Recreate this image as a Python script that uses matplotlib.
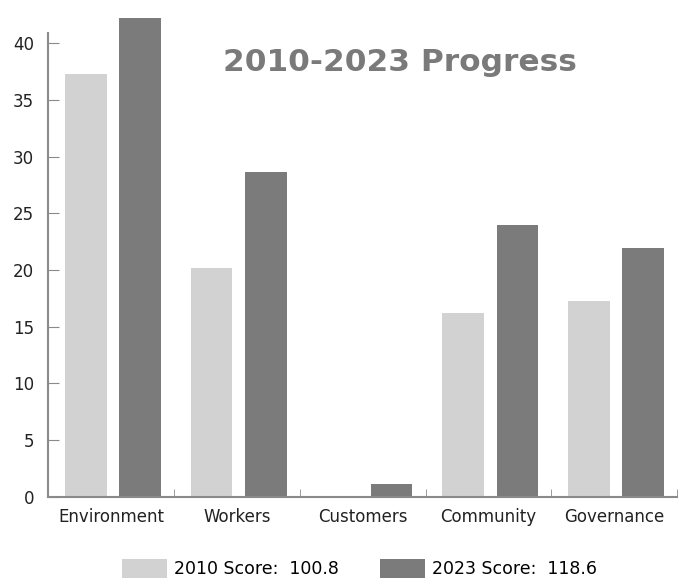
import numpy as np
import matplotlib.pyplot as plt

categories = ['Environment', 'Workers', 'Customers', 'Community', 'Governance']
scores_2010 = [37.3, 20.2, 0.0, 16.2, 17.3]
scores_2023 = [42.2, 28.6, 1.1, 24.0, 21.9]
labels = ['2010 Score:  100.8', '2023 Score:  118.6']
yticks = [0, 5, 10, 15, 20, 25, 30, 35, 40]

light = '#d2d2d2'
dark = '#7b7b7b'
axis_col = '#8a8a8a'

fig = plt.figure(figsize=(6.98, 5.79), dpi=100)
ax = fig.add_axes([0.069, 0.142, 0.901, 0.801])

x = np.arange(len(categories))
w = 0.33
b1 = ax.bar(x - 0.2, scores_2010, w, color=light, label=labels[0], clip_on=False)
b2 = ax.bar(x + 0.23, scores_2023, w, color=dark, label=labels[1], clip_on=False)

ax.set_xlim(-0.5, 4.5)
ax.set_ylim(0, 40.9)
ax.set_yticks(yticks)
ax.set_xticks(x)
ax.set_xticklabels(categories, fontsize=12, color='#222222')
ax.set_xticks(np.arange(-0.5, 5, 1), minor=True)
ax.tick_params(axis='x', which='major', length=0, pad=8)
ax.tick_params(axis='x', which='minor', direction='in', length=6, color=axis_col)
ax.tick_params(axis='y', direction='in', length=8, color=axis_col, labelsize=12,
               labelcolor='#222222', pad=10)

for s in ['top', 'right']:
    ax.spines[s].set_visible(False)
for s in ['left', 'bottom']:
    ax.spines[s].set_color(axis_col)
    ax.spines[s].set_linewidth(1.5)

fig.text(0.573, 0.892, '2010-2023 Progress', fontsize=22.5, fontweight='bold',
         color='#7a7a7a', ha='center', va='center')

fig.legend(handles=[b1, b2], labels=labels, loc='center', bbox_to_anchor=(0.515, 0.018),
           ncol=2, frameon=False, fontsize=12.5, handlelength=2.6, handleheight=1.3,
           columnspacing=2.4, handletextpad=0.4)

fig.savefig('out.png', dpi=100)
